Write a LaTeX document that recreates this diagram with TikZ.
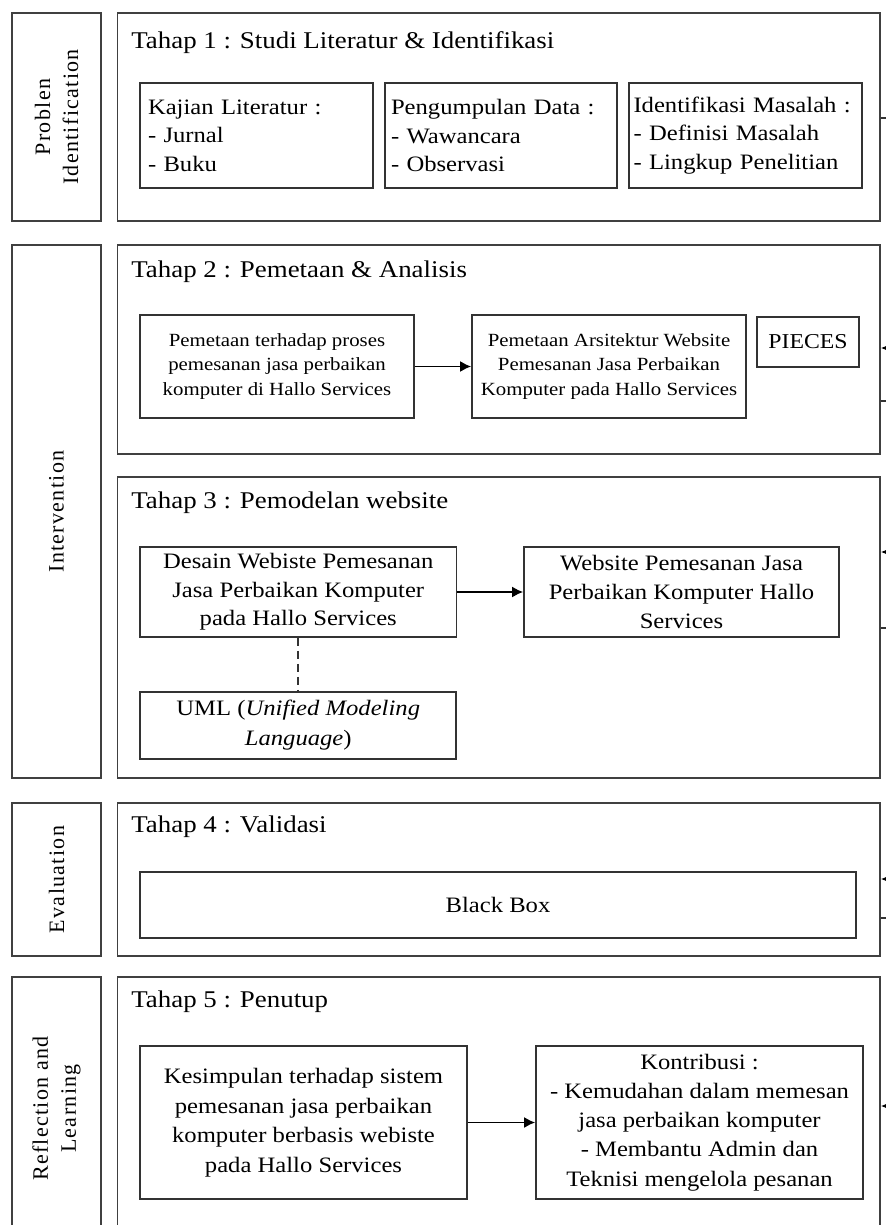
\documentclass[tikz,border=0pt]{standalone}
\usepackage{fontspec}
\setmainfont{Liberation Serif}[FakeStretch=1.12]
\newfontfamily\lblfont{Liberation Serif}[LetterSpace=6]
\usetikzlibrary{arrows.meta}
\tikzset{
  frame/.style={draw=black!75, line width=0.95pt, inner sep=0pt},
  box/.style={draw=black!80, line width=0.85pt, inner sep=0pt, font=\fontsize{11}{14.3}\selectfont},
  smallbox/.style={box, font=\fontsize{9.3}{12.2}\selectfont},
  lbox/.style={box, align=left, inner xsep=4pt},
  title/.style={anchor=west, inner sep=0pt, font=\fontsize{12}{14}\selectfont},
  side/.style={frame, rotate=90, align=center, font=\lblfont\fontsize{11}{14}\selectfont},
  arr/.style={draw=black, line width=0.85pt, -{Latex[length=5.5pt,width=5.5pt]}},
  link/.style={draw=black!80, line width=0.85pt},
}
\begin{document}
\begin{tikzpicture}[x=0.5pt, y=-0.5pt]
\useasboundingbox (0,0) rectangle (886,1225);
\fill[white] (0,0) rectangle (886,1225);
\clip (0,0) rectangle (886,1225);

% left phase labels
\node[side, minimum width=104pt, minimum height=44.1pt] (l1) at (56.5,117) {Problen\\Identification};
\node[side, minimum width=266.5pt, minimum height=44.1pt] (l2) at (56.5,511.5) {Intervention};
\node[side, minimum width=76.5pt, minimum height=44.1pt] (l3) at (56.5,879.5) {Evaluation};
\node[side, minimum width=131.5pt, minimum height=44.1pt] (l4) at (56.5,1108.5) {Reflection and\\Learning};

% stage frames
\node[frame, minimum width=381.25pt, minimum height=104pt] (s1) at (498.75,117) {};
\node[frame, minimum width=381.25pt, minimum height=104.5pt] (s2) at (498.75,349.5) {};
\node[frame, minimum width=381.25pt, minimum height=150.5pt] (s3) at (498.75,627.5) {};
\node[frame, minimum width=381.25pt, minimum height=76.5pt] (s4) at (498.75,879.5) {};
\node[frame, minimum width=381.25pt, minimum height=131.5pt] (s5) at (498.75,1108.5) {};

% titles
\node[title] (t1) at (131,43) {Tahap 1 : Studi Literatur \& Identifikasi};
\node[title] (t2) at (131,272) {Tahap 2 : Pemetaan \& Analisis};
\node[title] (t3) at (131,503) {Tahap 3 : Pemodelan website};
\node[title] (t4) at (131,827) {Tahap 4 : Validasi};
\node[title] (t5) at (131,1002) {Tahap 5 : Penutup};

% stage 1
\node[lbox, minimum width=116.5pt, minimum height=52.5pt, text width=108.5pt] (kaj) at (256.5,135.5)
  {Kajian Literatur :\\- Jurnal\\- Buku};
\node[lbox, minimum width=116pt, minimum height=52.5pt, text width=110pt, inner xsep=3pt] (peng) at (501,135.5)
  {Pengumpulan Data :\\- Wawancara\\- Observasi};
\node[lbox, minimum width=116.5pt, minimum height=52.5pt, text width=112pt, inner xsep=2.25pt] (ident) at (745.5,135.5)
  {Identifikasi Masalah :\\- Definisi Masalah\\- Lingkup Penelitian};

% stage 2
\node[smallbox, align=center, minimum width=137pt, minimum height=51.5pt] (pa) at (277,366.5)
  {Pemetaan terhadap proses\\pemesanan jasa perbaikan\\komputer di Hallo Services};
\node[smallbox, align=center, minimum width=137pt, minimum height=51.5pt] (pb) at (609,366.5)
  {Pemetaan Arsitektur Website\\Pemesanan Jasa Perbaikan\\Komputer pada Hallo Services};
\node[box, font=\fontsize{10.6}{13}\selectfont, minimum width=51pt, minimum height=25pt] (pieces) at (808,342) {PIECES};
\draw[arr] (pa) -- (pb);

% stage 3
\node[box, align=center, minimum width=158.25pt, minimum height=45pt] (desain) at (298.25,592)
  {Desain Webiste Pemesanan\\Jasa Perbaikan Komputer\\pada Hallo Services};
\node[box, align=center, minimum width=157.5pt, minimum height=45pt] (web) at (681.5,592)
  {Website Pemesanan Jasa\\Perbaikan Komputer Hallo\\Services};
\node[box, align=center, minimum width=158pt, minimum height=33.5pt, font=\fontsize{11}{15}\selectfont] (uml) at (298.25,725.5)
  {UML (\textit{Unified Modeling}\\\textit{Language})};
\draw[arr] (desain) -- (web);
\draw[link, dashed, dash pattern=on 4pt off 2.5pt] (desain) -- (uml);

% stage 4
\node[box, minimum width=358pt, minimum height=33pt] (bb) at (498,905) {Black Box};

% stage 5
\node[box, align=center, minimum width=163.5pt, minimum height=76.5pt, font=\fontsize{11}{14.8}\selectfont] (kes) at (303.5,1122.5)
  {Kesimpulan terhadap sistem\\pemesanan jasa perbaikan\\komputer berbasis webiste\\pada Hallo Services};
\node[box, align=center, minimum width=163.5pt, minimum height=76.5pt, font=\fontsize{11}{14.6}\selectfont] (kon) at (699.5,1122.5)
  {Kontribusi :\\- Kemudahan dalam memesan\\jasa perbaikan komputer\\- Membantu Admin dan\\Teknisi mengelola pesanan};
\draw[arr] (kes) -- (kon);

% connectors leaving the picture on the right
\coordinate (r1o) at (900,118);
\coordinate (r2i) at (900,348);
\coordinate (r2o) at (900,401);
\coordinate (r3i) at (900,552);
\coordinate (r3o) at (900,628);
\coordinate (r4i) at (900,879);
\coordinate (r4o) at (900,918);
\coordinate (r5i) at (900,1106);
\draw[link] (r1o -| s1.east) -- (r1o);
\draw[arr] (r2i) -- (r2i -| s2.east);
\draw[link] (r2o -| s2.east) -- (r2o);
\draw[arr] (r3i) -- (r3i -| s3.east);
\draw[link] (r3o -| s3.east) -- (r3o);
\draw[arr] (r4i) -- (r4i -| s4.east);
\draw[link] (r4o -| s4.east) -- (r4o);
\draw[arr] (r5i) -- (r5i -| s5.east);
\end{tikzpicture}
\end{document}
